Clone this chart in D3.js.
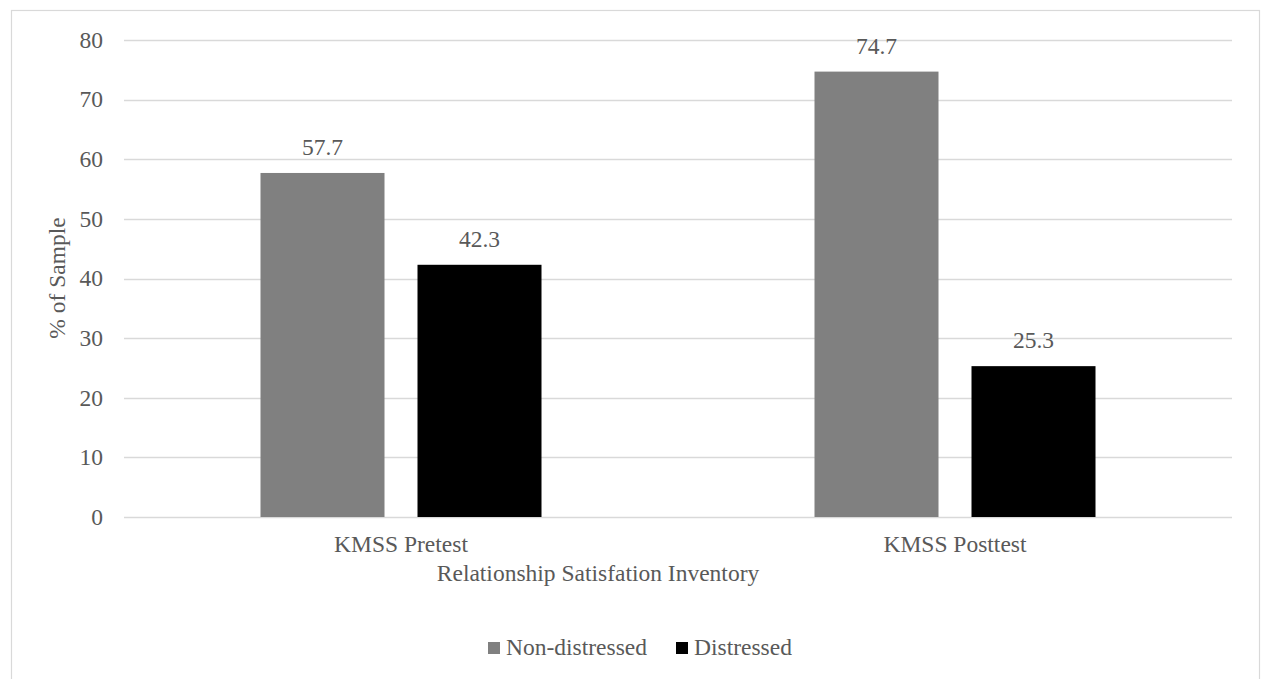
<!DOCTYPE html>
<html>
<head>
<meta charset="utf-8">
<script src="https://cdn.jsdelivr.net/npm/d3@7"></script>
<style>
  html, body { margin: 0; padding: 0; background: #fff; }
  svg { display: block; }
</style>
</head>
<body>
<svg id="chart" width="1261" height="679"></svg>
<script>
// Survey outcome: share of couples by distress status, before and after
const categories = ["KMSS Pretest", "KMSS Posttest"];
const seriesNames = ["Non-distressed", "Distressed"];
const seriesColors = ["#808080", "#000000"];
const nonDistressed = [57.7, 74.7];
const distressed = [42.3, 25.3];
const yTicks = [0, 10, 20, 30, 40, 50, 60, 70, 80];
const yAxisTitle = "% of Sample";
const xAxisTitle = "Relationship Satisfation Inventory";

const seriesValues = [nonDistressed, distressed];
const textColor = "#595959";
const gridColor = "#d9d9d9";
const fontSize = 23.5;
const fontFamily = '"Liberation Serif"';

const svg = d3.select("#chart");

// Shared text styling
function styleText(sel) {
  return sel.style("font-family", fontFamily)
    .style("font-size", fontSize + "px")
    .attr("fill", textColor);
}

// Chart frame
svg.append("rect")
  .attr("x", 11.5).attr("y", 10.5)
  .attr("width", 1248).attr("height", 680)
  .attr("fill", "#fff").attr("stroke", gridColor).attr("stroke-width", 1.2);

const plot = { left: 124, right: 1232, top: 40, bottom: 517 };

const y = d3.scaleLinear().domain([0, 80]).range([plot.bottom, plot.top]);
const x0 = d3.scaleBand().domain(categories).range([plot.left, plot.right]).paddingInner(0).paddingOuter(0);

// Horizontal gridlines
svg.append("g")
  .selectAll("line")
  .data(yTicks)
  .join("line")
  .attr("x1", plot.left).attr("x2", plot.right)
  .attr("y1", d => Math.round(y(d)) + 0.5).attr("y2", d => Math.round(y(d)) + 0.5)
  .attr("stroke", gridColor).attr("stroke-width", 1.3);

// Y tick labels
svg.append("g")
  .selectAll("text")
  .data(yTicks)
  .join("text")
  .attr("x", 103)
  .attr("y", d => y(d))
  .attr("dy", "0.33em")
  .attr("text-anchor", "end")
  .call(styleText)
  .text(d => d);

// Bars: two series per category
const barWidth = 124;
const barGap = 33;
const groups = svg.append("g")
  .selectAll("g")
  .data(categories)
  .join("g");

groups.each(function(cat, ci) {
  const g = d3.select(this);
  const center = x0(cat) + x0.bandwidth() / 2;
  const total = barWidth * 2 + barGap;
  seriesValues.forEach((vals, si) => {
    const v = vals[ci];
    const bx = center - total / 2 + si * (barWidth + barGap);
    g.append("rect")
      .attr("x", bx)
      .attr("y", y(v))
      .attr("width", barWidth)
      .attr("height", y(0) - y(v))
      .attr("fill", seriesColors[si]);
    g.append("text")
      .attr("x", bx + barWidth / 2)
      .attr("y", y(v) - 18)
      .attr("text-anchor", "middle")
      .call(styleText)
      .text(v.toFixed(1));
  });
});

// Category labels
svg.append("g")
  .selectAll("text")
  .data(categories)
  .join("text")
  .attr("x", d => x0(d) + x0.bandwidth() / 2)
  .attr("y", 552)
  .attr("text-anchor", "middle")
  .call(styleText)
  .text(d => d);

// Axis titles
svg.append("text")
  .attr("x", 598).attr("y", 581)
  .attr("text-anchor", "middle")
  .call(styleText)
  .text(xAxisTitle);

svg.append("text")
  .attr("transform", `translate(65, ${278}) rotate(-90)`)
  .attr("text-anchor", "middle")
  .call(styleText)
  .text(yAxisTitle);

// Legend
const legendItems = [
  { name: seriesNames[0], color: seriesColors[0], x: 488 },
  { name: seriesNames[1], color: seriesColors[1], x: 676 }
];
const legend = svg.append("g")
  .selectAll("g")
  .data(legendItems)
  .join("g")
  .attr("transform", d => `translate(${d.x}, 642)`);
legend.append("rect")
  .attr("width", 12).attr("height", 12)
  .attr("fill", d => d.color);
legend.append("text")
  .attr("x", 18).attr("y", 13)
  .call(styleText)
  .text(d => d.name);
</script>
</body>
</html>
